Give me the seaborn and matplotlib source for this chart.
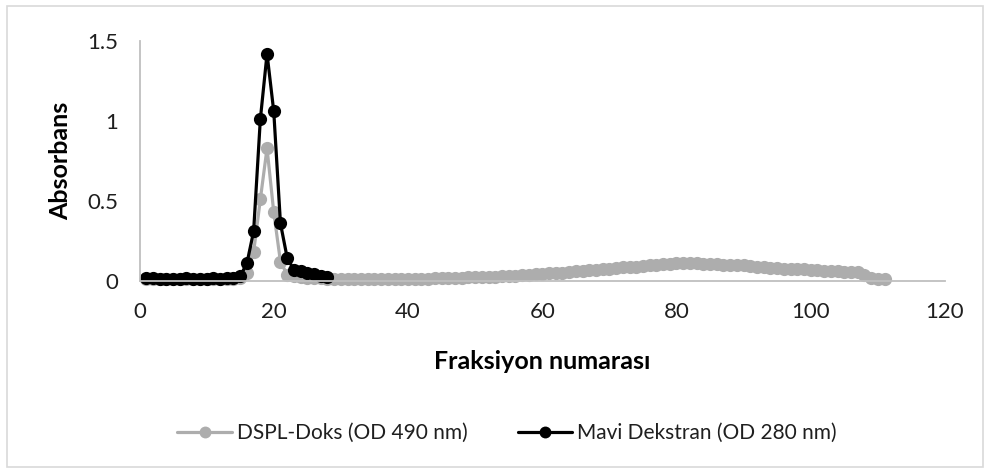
import matplotlib
matplotlib.use("Agg")
import matplotlib.pyplot as plt
import seaborn as sns
import pandas as pd
from matplotlib.patches import Rectangle

# Fraction numbers
fractions_dspl = list(range(1, 112))
fractions_dekstran = list(range(1, 29))

# DSPL-Doks absorbance (OD 490 nm)
abs_dspl = [
    0.015, 0.015, 0.012, 0.010, 0.010, 0.012, 0.015, 0.012, 0.010, 0.012,
    0.015, 0.012, 0.015, 0.015, 0.020, 0.050, 0.180, 0.510, 0.830, 0.430,
    0.120, 0.040, 0.030, 0.025, 0.020, 0.020, 0.020, 0.015, 0.012, 0.010,
    0.010, 0.010, 0.010, 0.010, 0.012, 0.012, 0.012, 0.012, 0.013, 0.014,
    0.014, 0.015, 0.015, 0.016, 0.017, 0.018, 0.020, 0.020, 0.022, 0.024,
    0.025, 0.026, 0.028, 0.030, 0.032, 0.034, 0.036, 0.040, 0.042, 0.045,
    0.048, 0.050, 0.053, 0.056, 0.060, 0.062, 0.066, 0.070, 0.074, 0.078,
    0.082, 0.086, 0.090, 0.088, 0.095, 0.100, 0.098, 0.105, 0.108, 0.110,
    0.112, 0.110, 0.112, 0.108, 0.106, 0.104, 0.102, 0.100, 0.100, 0.098,
    0.095, 0.090, 0.085, 0.082, 0.080, 0.078, 0.076, 0.074, 0.072, 0.068,
    0.066, 0.064, 0.062, 0.060, 0.058, 0.056, 0.054, 0.040, 0.020, 0.015,
    0.015,
]

# Mavi Dekstran absorbance (OD 280 nm)
abs_dekstran = [
    0.020, 0.020, 0.015, 0.010, 0.010, 0.015, 0.020, 0.015, 0.010, 0.015,
    0.020, 0.015, 0.020, 0.020, 0.030, 0.110, 0.310, 1.010, 1.420, 1.060,
    0.360, 0.145, 0.070, 0.060, 0.050, 0.045, 0.030, 0.025,
]

series_labels = ["DSPL-Doks (OD 490 nm)", "Mavi Dekstran (OD 280 nm)"]
x_ticks = [0, 20, 40, 60, 80, 100, 120]
y_ticks = [0, 0.5, 1, 1.5]
y_tick_labels = ["0", "0.5", "1", "1.5"]

df_dspl = pd.DataFrame({"Fraksiyon": fractions_dspl, "Absorbans": abs_dspl})
df_dek = pd.DataFrame({"Fraksiyon": fractions_dekstran, "Absorbans": abs_dekstran})

sns.set_theme(style="white")
plt.rcParams["font.family"] = ["Lato", "DejaVu Sans"]

fig = plt.figure(figsize=(9.9, 4.73), dpi=100)
ax = fig.add_axes([139.5 / 990, 1 - 281 / 473, 805.5 / 990, 240 / 473])

gray = "#ADADAD"
sns.lineplot(data=df_dspl, x="Fraksiyon", y="Absorbans", ax=ax, color=gray,
             linewidth=2.3, marker="o", markersize=9.5, markeredgecolor=gray,
             markeredgewidth=0, label=series_labels[0], sort=False)
sns.lineplot(data=df_dek, x="Fraksiyon", y="Absorbans", ax=ax, color="black",
             linewidth=2.3, marker="o", markersize=9.5, markeredgecolor="black",
             markeredgewidth=0, label=series_labels[1], sort=False)

ax.set_xlim(0, 120)
ax.set_ylim(0, 1.5)
ax.set_xticks(x_ticks)
ax.set_yticks(y_ticks)
ax.set_yticklabels(y_tick_labels)
ax.tick_params(axis="both", length=0, labelsize=16, colors="#1f1f1f")
ax.tick_params(axis="x", pad=15)
ax.tick_params(axis="y", pad=15.5)

for side in ["top", "right"]:
    ax.spines[side].set_visible(False)
for side in ["left", "bottom"]:
    ax.spines[side].set_color("#BFBFBF")
    ax.spines[side].set_linewidth(1.3)
for line in ax.lines:
    line.set_clip_on(False)

ax.set_xlabel("Fraksiyon numarası", fontsize=18, fontweight="bold",
              color="black", labelpad=20)
ax.set_ylabel("Absorbans", fontsize=18, fontweight="bold",
              color="black", labelpad=11)

handles, labels = ax.get_legend_handles_labels()
ax.get_legend().remove()
fig.legend(handles, labels, loc="center", bbox_to_anchor=(507 / 990, 1 - 433 / 473),
           ncol=2, frameon=False, fontsize=15, handlelength=2.6,
           handletextpad=0.25, columnspacing=2.4, markerscale=0.9,
           labelcolor="#1f1f1f")

# Outer chart border
fig.patches.append(Rectangle((7 / 990, 6 / 473), 976 / 990, 461 / 473,
                             transform=fig.transFigure, fill=False,
                             edgecolor="#D9D9D9", linewidth=1.2))

fig.savefig("out.png", dpi=100, facecolor="white")
